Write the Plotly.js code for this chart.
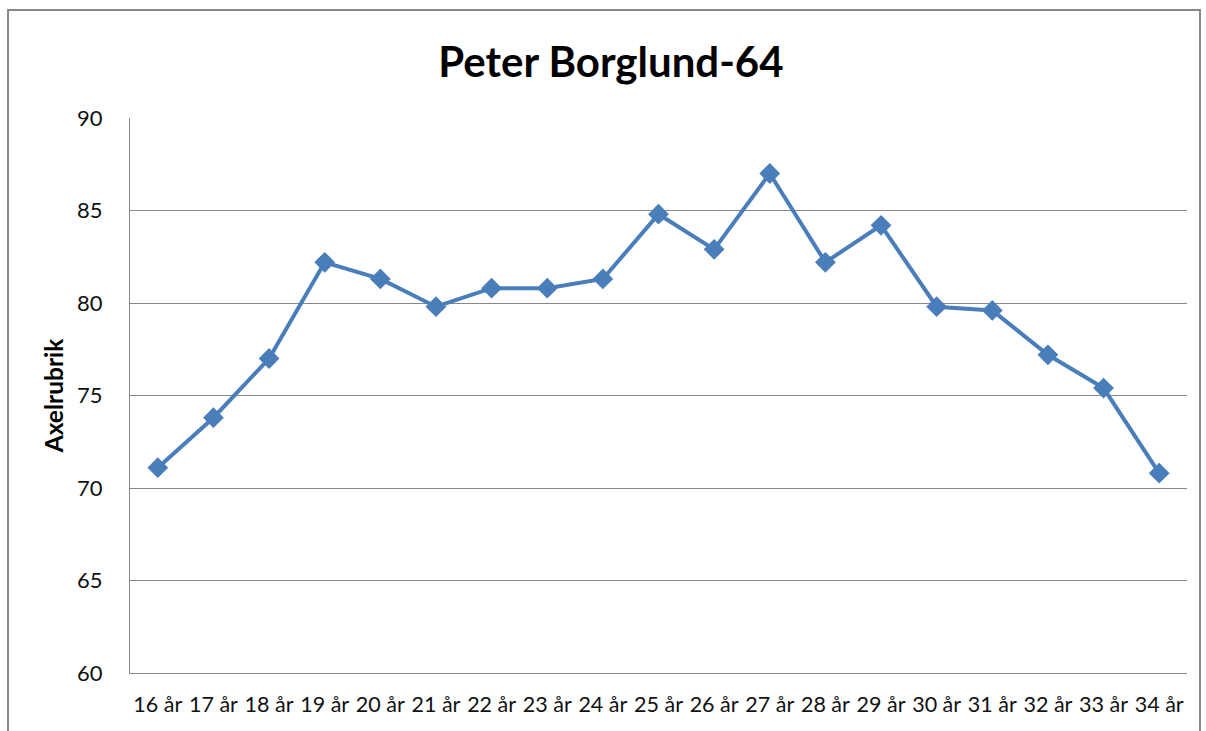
<!DOCTYPE html>
<html>
<head>
<meta charset="utf-8">
<script src="https://cdn.plot.ly/plotly-3.0.1.min.js"></script>
<style>html,body{margin:0;padding:0;background:#fff;}#chart{width:1206px;height:731px;}</style>
</head>
<body>
<div id="chart"></div>
<script>
const categories = ["16 år","17 år","18 år","19 år","20 år","21 år","22 år","23 år","24 år","25 år","26 år","27 år","28 år","29 år","30 år","31 år","32 år","33 år","34 år"];
const values = [71.1, 73.8, 77.0, 82.2, 81.3, 79.8, 80.8, 80.8, 81.3, 84.8, 82.9, 87.0, 82.2, 84.2, 79.8, 79.6, 77.2, 75.4, 70.8];
const yTicks = [60, 65, 70, 75, 80, 85, 90];
const chartTitle = "Peter Borglund-64";
const yTitle = "Axelrubrik";

const font = "Lato, 'Open Sans', sans-serif";

Plotly.newPlot("chart", [{
  x: categories,
  y: values,
  type: "scatter",
  mode: "lines+markers",
  line: {color: "#4a7ebb", width: 4},
  marker: {symbol: "diamond", size: 16, color: "#4a7ebb"},
  hoverinfo: "x+y"
}], {
  width: 1206, height: 731,
  margin: {l: 130, r: 19, t: 118, b: 58},
  paper_bgcolor: "#fff", plot_bgcolor: "#fff",
  showlegend: false,
  title: {text: chartTitle, font: {family: font, size: 42, color: "#000", weight: "bold"}, x: 0.5066, xanchor: "center", y: 0.915, yanchor: "middle"},
  xaxis: {
    type: "category", range: [-0.5, 18.5],
    showgrid: false, zeroline: false,
    showline: true, linecolor: "#888", linewidth: 1,
    ticks: "", ticklabelstandoff: 12, tickfont: {family: font, size: 21.5, color: "#111"},
    fixedrange: true
  },
  yaxis: {
    range: [60, 90], tickvals: yTicks, ticktext: yTicks.map(String),
    showgrid: true, gridcolor: "#888", gridwidth: 1,
    showline: true, linecolor: "#888", linewidth: 1,
    zeroline: false, ticks: "", ticklabelstandoff: 22,
    tickfont: {family: font, size: 22, color: "#111"},
    title: {text: yTitle, font: {family: font, size: 24.5, color: "#000", weight: "bold"}, standoff: 6},
    fixedrange: true
  },
  shapes: [{
    type: "rect", xref: "paper", yref: "paper",
    x0: -0.1154, x1: 1.0123, y0: -0.2, y1: 1.1946,
    line: {color: "#888", width: 2}, fillcolor: "rgba(0,0,0,0)", layer: "below"
  }]
}, {displayModeBar: false, staticPlot: false});
</script>
</body>
</html>
